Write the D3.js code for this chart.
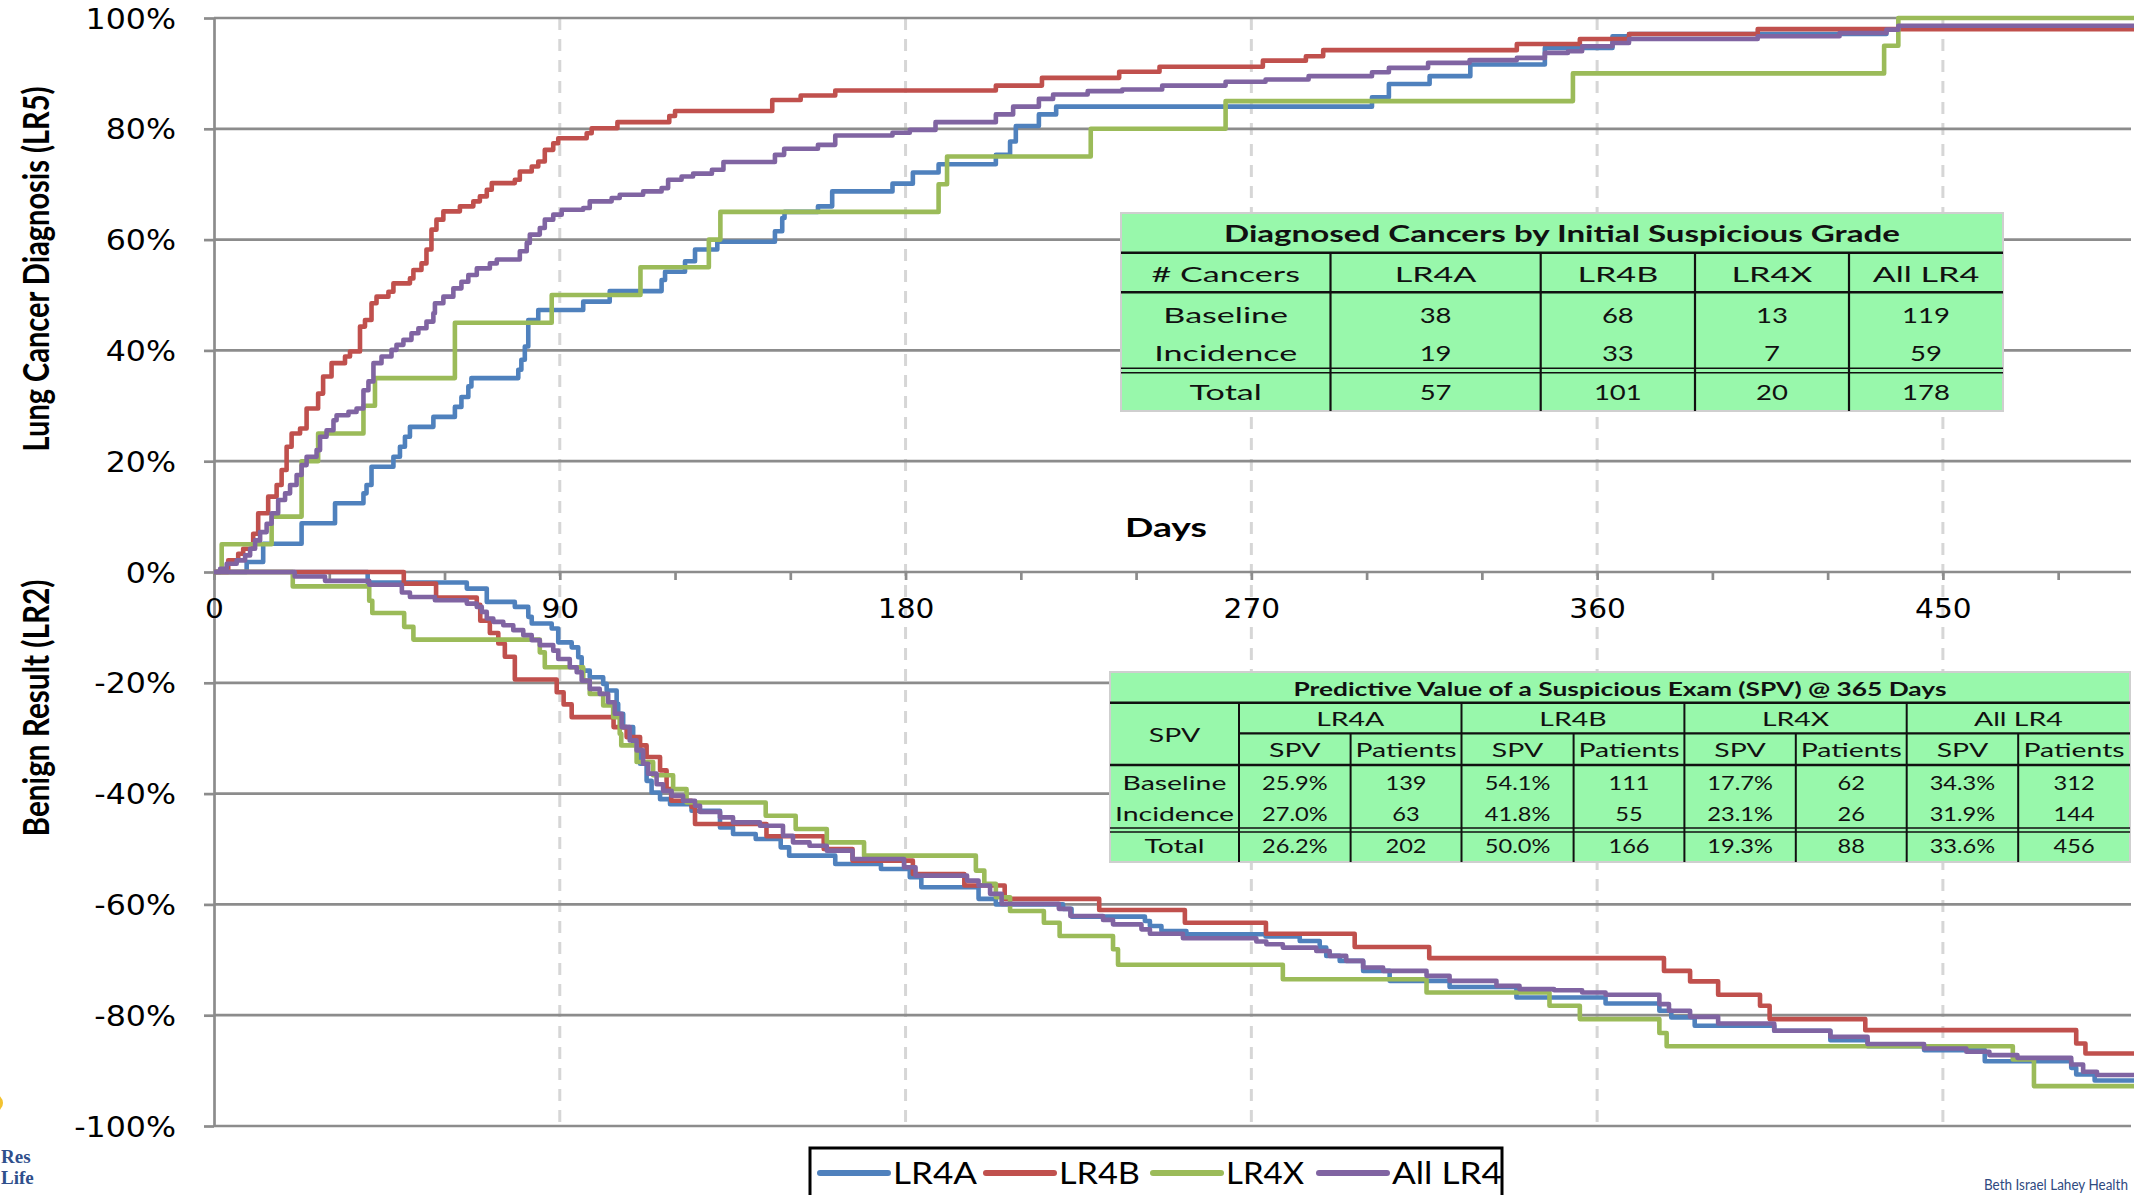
<!DOCTYPE html>
<html>
<head>
<meta charset="utf-8">
<script src="https://cdn.jsdelivr.net/npm/d3@7"></script>
<style>
  html, body { margin: 0; padding: 0; background: #fff; }
  svg { display: block; }
</style>
</head>
<body>
<svg id="chart" width="2134" height="1195"></svg>
<script>
// ---- data (days, percent) ----
const seriesNames = ['LR4A', 'LR4B', 'LR4X', 'All LR4'];
const seriesColors = ['#4f81bd', '#c0504d', '#9bbb59', '#8064a2'];

// cumulative lung cancer diagnosis (LR5), upper panel
const diagLR4A = [[0,0],[8.5,1.8],[12.8,5.1],[22.8,8.8],[31.5,12.4],[38.9,14.2],[39.7,15.7],[41,19],[46.7,20.8],[48.4,22.6],[49.7,24.4],[51,26.2],[57.1,28],[62.7,29.8],[64.4,31.6],[66.2,33.5],[67,35],[79.2,36.5],[80,38.3],[80.9,40.7],[81.8,45.5],[84.4,47.3],[96.1,48.8],[103,50.7],[116.5,52.7],[117.4,54.2],[122.6,56.1],[125.2,58.2],[131,59.6],[146,61.5],[147.9,63.9],[148.5,65],[157.2,66],[160.9,68.7],[176.6,70.1],[181.9,72.1],[188.6,73.6],[203.5,75.3],[207.2,77.7],[208.7,80.5],[214.7,82.6],[219.2,84],[301.4,85.7],[305.8,88.1],[316.4,89.5],[327,91.6],[346.4,94.6],[364,96.7],[368.3,97.1],[435.3,97.9],[438.4,98.3]];
const diagLR4B = [[0,0],[3.7,2.1],[6.3,3.3],[7.6,4.2],[10.2,6.9],[11.5,10.6],[14.1,13.6],[16.3,15.7],[17.6,18.4],[18.9,22.6],[20.2,25],[22.4,25.9],[24.1,29.5],[27.1,32.2],[28.4,35.3],[30.6,37.7],[34.1,38.9],[35.4,39.8],[38,44.3],[39.3,45.5],[41,48.5],[42.3,49.7],[45.4,50.6],[46.7,52.1],[51,53],[51.9,54.5],[54,55.7],[55.3,58.2],[56.6,61.8],[57.9,63.6],[59.7,65.1],[64,66],[67.5,66.9],[69.2,67.8],[71,69],[72.3,70.2],[78.3,70.8],[79.6,72.3],[82.7,73.2],[84.4,74.1],[86.1,76.2],[88.3,77.4],[89.6,78.3],[97,79.2],[98.3,80.1],[105,81.2],[118.5,82.3],[120,83.2],[145.3,85.2],[152.7,86],[161.7,86.9],[203.5,87.8],[215.5,89.2],[235.6,90.3],[246.1,91.2],[273,92.3],[284.2,93.1],[288.7,94.2],[339.1,95.3],[355.5,96.2],[368.3,97.1],[401.8,98]];
const diagLR4X = [[0,0],[2,5],[15,10],[22.8,20],[27.1,25],[38.9,30],[41.9,35],[62.7,45],[87.9,50],[111,55],[128.8,60],[131.8,65],[188.6,70],[190.8,75],[228.2,80],[263.3,85],[353.7,90],[434.7,95],[438.4,100]];
const diagAll = [[0,0],[1.6,0.6],[3.3,1.5],[5.9,2.1],[8.1,3],[9.4,4.2],[10.7,5.7],[12,7.2],[13.7,8.7],[15,10.6],[16.7,13],[18.5,14.2],[19.8,15.7],[21.5,17.5],[22.8,19.3],[24.1,20.8],[26.7,22],[27.6,24.4],[29.3,25.6],[31.1,27.4],[31.9,28.3],[35,28.9],[37.1,29.5],[38.9,32.8],[40.2,34.4],[41.5,37.7],[43.6,38.9],[46.2,40.1],[47.5,41],[49.3,41.9],[51.4,43.1],[53.2,44],[55.3,45.2],[57.1,46.7],[57.5,48.5],[59.7,49.7],[62.3,51.2],[64.4,52.4],[66.2,53.6],[68.4,54.8],[71.8,55.7],[73.6,56.4],[79.6,57.9],[81.4,59.4],[82.2,60.9],[84.8,62.1],[86.1,63.6],[88.3,64.5],[90.5,65.4],[96.1,65.7],[97.8,66.9],[103.5,67.5],[105.6,68.1],[111.7,68.7],[116.5,69.3],[118.2,70.8],[121.7,71.4],[124.7,71.9],[129.6,72.6],[132.6,74],[146,75.3],[148.4,76.4],[157.2,77.1],[161.7,78.8],[176.6,79.3],[181.1,79.8],[187.8,81.2],[203.5,82.6],[208,84],[214.7,85.4],[218.4,86.2],[227.4,86.8],[236.4,87.1],[246.8,87.8],[263.3,88.5],[273.7,88.9],[284.9,89.5],[301.4,90.2],[305.8,91],[316,91.9],[326.8,92.4],[339.1,92.8],[346.4,93.7],[352.4,94],[356.1,94.9],[364,95.5],[368.3,96.2],[401.8,96.7],[423.1,97.3],[435.3,97.9],[438.4,98.6]];

// cumulative benign result (LR2), lower panel
const benignLR4A = [[0,0],[40,-1.9],[65.8,-3],[71,-5.4],[78.3,-6.3],[81.8,-8.1],[82.7,-9.3],[87.9,-10.2],[89.6,-12.7],[93.1,-13.6],[94.8,-15.4],[95.7,-17.8],[97.8,-19],[101.3,-20.2],[102.2,-21.4],[104.8,-23.8],[105.2,-25.6],[106.5,-28],[109.1,-31],[110.9,-34.6],[112.6,-37.7],[113.9,-39.8],[116.1,-41],[118.7,-41.9],[124.3,-43.1],[131.7,-46.1],[135.1,-47.3],[141,-48.2],[147.5,-49.7],[149.7,-51.2],[161.7,-52.7],[173.6,-53.6],[181.1,-55.1],[184.1,-56.9],[199,-59],[203.5,-60],[221,-60.8],[223.2,-62.2],[242.3,-63],[243.6,-63.9],[246.6,-64.8],[253.1,-65.4],[273.7,-65.8],[282.6,-66.6],[287.8,-67.8],[289.5,-69.3],[293,-70.2],[299.1,-72],[306,-73.8],[321.6,-74.9],[339,-76.8],[362.2,-77.9],[376.2,-79.2],[379.3,-80.4],[385.4,-81.9],[406.1,-82.8],[420.7,-84.5],[430.4,-85.6],[445.1,-86.3],[460.9,-88.3],[483.4,-89.5],[484.7,-90.7],[489.5,-91.8]];
const benignLR4B = [[0,0],[49.4,-2.1],[57.8,-4.6],[68.4,-5.9],[69.3,-8.8],[71.8,-11],[74,-12.9],[75.7,-15.3],[78.3,-19.4],[89.2,-21.7],[91,-23.9],[93.1,-26.2],[104,-28],[107.4,-29.8],[110.9,-31.3],[112.6,-33.4],[116.1,-35.8],[117.8,-39.2],[119,-41.3],[124.3,-42.4],[125.2,-45.5],[143.8,-47.7],[158.7,-50],[166.2,-52.1],[181.9,-54.5],[195.3,-56.6],[205.8,-59],[230.4,-61],[252.7,-63.3],[273.8,-65.3],[296.9,-67.7],[316.3,-69.7],[377.4,-72],[384.2,-73.9],[391.5,-76.3],[402.4,-78.3],[404.9,-80.7],[429.8,-82.7],[484.7,-85.1],[487.1,-86.9]];
const benignLR4X = [[0,0],[20.5,-2.6],[40.4,-5.2],[41.2,-7.4],[49.5,-9.9],[51.9,-12.2],[84.8,-14.5],[86.1,-17.2],[96.1,-19.6],[97.8,-22],[101.3,-24.1],[103.9,-26.2],[105.6,-29.2],[106,-31.3],[110,-34.3],[114.3,-36.7],[119.5,-39.2],[123,-41.6],[143.6,-44],[151.4,-46.4],[159.5,-48.8],[169.2,-51.2],[198.3,-53.9],[200.5,-56.3],[203.5,-58.7],[207.2,-61.2],[216,-63.3],[220.1,-65.7],[234,-68.1],[235.3,-70.9],[278.2,-73.5],[315.6,-75.9],[347.6,-78.3],[355.5,-80.7],[376.2,-83.2],[378.1,-85.6],[468.2,-88],[473.7,-92.8]];
const benignAll = [[0,0],[21,-0.8],[28.9,-1.6],[40.4,-2.3],[48.9,-3.7],[51,-4.5],[57.5,-5.1],[65.8,-5.7],[68.4,-6.3],[69.7,-7.2],[71,-8.4],[72.7,-9],[75.3,-9.6],[77.9,-10.5],[80.5,-11.4],[82.7,-12.3],[84.8,-13.2],[88.3,-14.2],[89.6,-15.7],[92.6,-17.2],[94.4,-18.1],[95.7,-19.6],[97.8,-21.1],[100.4,-22],[102.6,-23.5],[104.3,-25.6],[106.1,-28],[108.2,-30.4],[110,-32.2],[111.7,-34.6],[113,-36.4],[115.2,-38.3],[116.9,-39.5],[119.1,-40.4],[122.1,-41.3],[125.2,-42.2],[126.5,-43.3],[131.7,-44.3],[135.1,-45.2],[142.1,-45.8],[148.1,-47.6],[150.7,-48.8],[155,-49.4],[159.5,-50.3],[166.2,-51.8],[179.6,-53.3],[182.6,-54.8],[196,-55.7],[199,-56.6],[202,-58.1],[205,-59.9],[219.9,-60.8],[222.9,-62.1],[231.4,-62.8],[234,-63.6],[241.4,-64.5],[243.6,-65.3],[252.2,-66.1],[271.3,-66.7],[273.9,-67.2],[278.2,-67.8],[286.9,-68.4],[290.4,-69.3],[294.7,-70.2],[299.1,-71.4],[304.3,-72],[315.6,-72.9],[321.6,-73.8],[333.8,-74.7],[339.8,-75.3],[348.8,-75.5],[356.1,-75.9],[362.2,-76.3],[376.2,-78],[378.7,-79.2],[384.2,-80.3],[391.5,-81.5],[406.1,-82.8],[420.7,-83.9],[430.4,-85.2],[445.1,-86],[456.1,-86.6],[462.1,-87.2],[469.4,-87.7],[483.4,-88.9],[486.5,-90.2],[490.1,-90.8]];

const diagSeries = [diagLR4A, diagLR4B, diagLR4X, diagAll];
const benignSeries = [benignLR4A, benignLR4B, benignLR4X, benignAll];

// axis ticks
const xMinorTicks = d3.range(0, 481, 30);
const xLabelStep = 90;
const yTicks = d3.range(-100, 101, 20);

// table: Diagnosed Cancers by Initial Suspicious Grade
const t1Title = 'Diagnosed Cancers by Initial Suspicious Grade';
const t1Header = ['# Cancers', 'LR4A', 'LR4B', 'LR4X', 'All LR4'];
const t1RowLabels = ['Baseline', 'Incidence', 'Total'];
const t1Values = [[38, 68, 13, 119], [19, 33, 7, 59], [57, 101, 20, 178]];

// table: Predictive Value of a Suspicious Exam
const t2Title = 'Predictive Value of a Suspicious Exam (SPV) @ 365 Days';
const t2Groups = ['LR4A', 'LR4B', 'LR4X', 'All LR4'];
const t2Sub = ['SPV', 'Patients'];
const t2RowLabels = ['Baseline', 'Incidence', 'Total'];
const t2Values = [
  ['25.9%', 139, '54.1%', 111, '17.7%', 62, '34.3%', 312],
  ['27.0%', 63, '41.8%', 55, '23.1%', 26, '31.9%', 144],
  ['26.2%', 202, '50.0%', 166, '19.3%', 88, '33.6%', 456],
];

// ---- layout ----
const W = 2134;
const H = 1195;
const xMax = 500;
const svg = d3.select('#chart');
svg.append('rect').attr('width', W).attr('height', H).attr('fill', '#fff');

const x = d3.scaleLinear().domain([0, xMax]).range([214, 2135]);
const y = d3.scaleLinear().domain([-100, 100]).range([1126, 18]);

const GRID = '#8c8c8c';
const SANS = 'DejaVu Sans, Verdana, sans-serif';
const CAL = 'Lato, "Open Sans", sans-serif';

// stretch text horizontally (the slide was scaled non-uniformly)
function stretch(sel, k) {
  sel.each(function () {
    const w = this.getComputedTextLength();
    const f = typeof k === 'function' ? k(this.textContent) : k;
    this.setAttribute('textLength', w * f);
    this.setAttribute('lengthAdjust', 'spacingAndGlyphs');
  });
}
function fitTo(sel, w) {
  sel.attr('textLength', w).attr('lengthAdjust', 'spacingAndGlyphs');
}
// scale a text placed at the origin of its own group to a given width
function scaledText(parent, tx, ty, rot, width, txt, attrs) {
  const g = parent.append('g');
  const t = g.append('text').text(txt);
  Object.entries(attrs).forEach(([k, v]) => t.attr(k, v));
  const k = width / t.node().getComputedTextLength();
  g.attr('transform', `translate(${tx},${ty}) rotate(${rot}) scale(${k},1)`);
  return t;
}

// dashed day grid
svg.append('g')
  .selectAll('line')
  .data(xMinorTicks.filter((d) => d > 0 && d % xLabelStep === 0))
  .join('line')
  .attr('x1', (d) => x(d))
  .attr('x2', (d) => x(d))
  .attr('y1', y(100))
  .attr('y2', y(-100))
  .attr('stroke', '#d6d6d6')
  .attr('stroke-width', 3)
  .attr('stroke-dasharray', '12,9');

// horizontal grid
svg.append('g')
  .selectAll('line')
  .data(yTicks)
  .join('line')
  .attr('x1', x(0))
  .attr('x2', 2131)
  .attr('y1', (d) => y(d))
  .attr('y2', (d) => y(d))
  .attr('stroke', GRID)
  .attr('stroke-width', 2.7);

// y axis
const gy = svg.append('g')
  .attr('transform', `translate(${x(0)},0)`)
  .call(d3.axisLeft(y).tickValues(yTicks).tickSize(10).tickSizeOuter(0).tickPadding(28)
    .tickFormat((d) => `${d}%`));
gy.select('.domain').attr('stroke', GRID).attr('stroke-width', 2.7);
gy.selectAll('.tick line').attr('stroke', GRID).attr('stroke-width', 2.7);
gy.selectAll('.tick text')
  .attr('font-family', SANS)
  .attr('font-size', 28)
  .attr('fill', '#000')
  .attr('dy', '0.36em');
stretch(gy.selectAll('.tick text'), 1.13);

// x axis on the zero line
const gx = svg.append('g')
  .attr('transform', `translate(0,${y(0)})`)
  .call(d3.axisBottom(x).tickValues(xMinorTicks).tickSize(8).tickSizeOuter(0).tickPadding(20)
    .tickFormat((d) => (d % xLabelStep === 0 ? d : '')));
gx.select('.domain').remove();
gx.selectAll('.tick line').attr('stroke', GRID).attr('stroke-width', 2.7);
gx.selectAll('.tick text')
  .attr('font-family', SANS)
  .attr('font-size', 26)
  .attr('fill', '#000');
stretch(gx.selectAll('.tick text'), 1.14);

// step lines
const line = d3.line()
  .x((d) => x(d[0]))
  .y((d) => y(d[1]))
  .curve(d3.curveStepAfter);
const extend = (pts) => pts.concat([[xMax, pts[pts.length - 1][1]]]);

const gLines = svg.append('g').attr('fill', 'none')
  .attr('stroke-width', 4.6).attr('stroke-linejoin', 'round');
seriesNames.forEach((name, i) => {
  gLines.append('path').attr('d', line(extend(diagSeries[i]))).attr('stroke', seriesColors[i]);
  gLines.append('path').attr('d', line(extend(benignSeries[i]))).attr('stroke', seriesColors[i]);
});

// axis titles
const titleAttrs = {
  'text-anchor': 'middle', dy: '0.36em', 'font-family': CAL, 'font-weight': 700, 'font-size': 37, fill: '#000',
};
scaledText(svg, 36, 269, -90, 365, 'Lung Cancer Diagnosis (LR5)', titleAttrs);
scaledText(svg, 36, 708, -90, 257, 'Benign Result (LR2)', titleAttrs);
svg.append('text')
  .attr('x', 1166).attr('y', 527).attr('dy', '0.36em')
  .attr('text-anchor', 'middle')
  .attr('font-family', CAL).attr('font-weight', 700).attr('font-size', 27)
  .text('Days')
  .call(fitTo, 82);

// ---- tables ----
const GREEN = '#98f8ab';
const isNum = (s) => /^[\d.%]+$/.test(s);

function hline(g, x1, x2, yy, w) {
  g.append('line').attr('x1', x1).attr('x2', x2).attr('y1', yy).attr('y2', yy)
    .attr('stroke', '#111').attr('stroke-width', w);
}
function vline(g, xx, y1, y2, w) {
  g.append('line').attr('x1', xx).attr('x2', xx).attr('y1', y1).attr('y2', y2)
    .attr('stroke', '#111').attr('stroke-width', w);
}
function cell(g, cx, cy, txt, size, kl, kn, bold) {
  const t = g.append('text')
    .attr('x', cx).attr('y', cy).attr('dy', '0.36em')
    .attr('text-anchor', 'middle')
    .attr('font-family', CAL).attr('font-size', size)
    .attr('font-weight', bold ? 700 : 400)
    .attr('fill', '#111')
    .text(txt);
  stretch(t, (s) => (isNum(s) ? kn : kl));
  return t;
}

// table 1
const t1 = {
  left: 1121, right: 2003, top: 213, titleB: 252.7, headB: 292.3, dbl: [368.3, 372.7], bottom: 411,
  cols: [1121, 1330.5, 1540.7, 1695, 1849, 2003],
  rowY: [315, 353.3, 392.5], headY: 274.5, titleY: 234,
};
const g1 = svg.append('g');
g1.append('rect')
  .attr('x', t1.left).attr('y', t1.top)
  .attr('width', t1.right - t1.left).attr('height', t1.bottom - t1.top)
  .attr('fill', GREEN).attr('stroke', '#cfcfcf').attr('stroke-width', 2);
hline(g1, t1.left, t1.right, t1.titleB, 2.6);
hline(g1, t1.left, t1.right, t1.headB, 2.6);
t1.dbl.forEach((yy) => hline(g1, t1.left, t1.right, yy, 1.6));
t1.cols.slice(1, -1).forEach((xx) => vline(g1, xx, t1.titleB, t1.bottom, 2.2));
g1.append('text')
  .attr('x', (t1.left + t1.right) / 2).attr('y', t1.titleY).attr('dy', '0.36em')
  .attr('text-anchor', 'middle')
  .attr('font-family', CAL).attr('font-weight', 700).attr('font-size', 23).attr('fill', '#111')
  .text(t1Title)
  .call(fitTo, 676);
const t1Mid = (j) => (t1.cols[j] + t1.cols[j + 1]) / 2;
t1Header.forEach((h, j) => cell(g1, t1Mid(j), t1.headY, h, 22, 1.55, 1.25));
t1RowLabels.forEach((r, i) => {
  cell(g1, t1Mid(0), t1.rowY[i], r, 22, 1.55, 1.25);
  t1Values[i].forEach((v, j) => cell(g1, t1Mid(j + 1), t1.rowY[i], String(v), 22, 1.55, 1.25));
});

// table 2
const t2 = {
  left: 1110, right: 2130, top: 672, titleB: 702.7, h1B: 733.3, h2B: 765, dbl: [828, 832], bottom: 862,
  cols: [1110, 1239, 1350.6, 1461.5, 1573.6, 1684.4, 1795.8, 1906.7, 2018.2, 2130],
  titleY: 688.5, h1Y: 719, h2Y: 750, spvY: 734.5, rowY: [782.5, 814, 845.7],
};
const g2 = svg.append('g');
g2.append('rect')
  .attr('x', t2.left).attr('y', t2.top)
  .attr('width', t2.right - t2.left).attr('height', t2.bottom - t2.top)
  .attr('fill', GREEN).attr('stroke', '#cfcfcf').attr('stroke-width', 2);
hline(g2, t2.left, t2.right, t2.titleB, 2.4);
hline(g2, t2.cols[1], t2.right, t2.h1B, 2.2);
hline(g2, t2.left, t2.right, t2.h2B, 2.4);
t2.dbl.forEach((yy) => hline(g2, t2.left, t2.right, yy, 1.5));
t2.cols.slice(1, -1).forEach((xx, j) => vline(g2, xx, j % 2 === 0 ? t2.titleB : t2.h1B, t2.bottom, 2));
g2.append('text')
  .attr('x', (t2.left + t2.right) / 2).attr('y', t2.titleY).attr('dy', '0.36em')
  .attr('text-anchor', 'middle')
  .attr('font-family', CAL).attr('font-weight', 700).attr('font-size', 19.5).attr('fill', '#111')
  .text(t2Title)
  .call(fitTo, 653);
const t2Mid = (j) => (t2.cols[j] + t2.cols[j + 1]) / 2;
cell(g2, t2Mid(0), t2.spvY, 'SPV', 20, 1.42, 1.18);
t2Groups.forEach((gname, k) => {
  cell(g2, (t2.cols[1 + 2 * k] + t2.cols[3 + 2 * k]) / 2, t2.h1Y, gname, 20, 1.42, 1.18);
  t2Sub.forEach((s, m) => cell(g2, t2Mid(1 + 2 * k + m), t2.h2Y, s, 20, 1.42, 1.18));
});
t2RowLabels.forEach((r, i) => {
  cell(g2, t2Mid(0), t2.rowY[i], r, 20, 1.42, 1.18);
  t2Values[i].forEach((v, j) => cell(g2, t2Mid(j + 1), t2.rowY[i], String(v), 20, 1.42, 1.18));
});

// ---- legend ----
const legendX = [820, 986, 1153, 1319];
const legendTextW = [84, 81, 78, 110];
const gl = svg.append('g');
gl.append('rect')
  .attr('x', 810).attr('y', 1148).attr('width', 692).attr('height', 70)
  .attr('fill', '#fff').attr('stroke', '#000').attr('stroke-width', 3);
seriesNames.forEach((name, i) => {
  gl.append('line')
    .attr('x1', legendX[i]).attr('x2', legendX[i] + 68)
    .attr('y1', 1173).attr('y2', 1173)
    .attr('stroke', seriesColors[i]).attr('stroke-width', 6).attr('stroke-linecap', 'round');
  gl.append('text')
    .attr('x', legendX[i] + 73).attr('y', 1184)
    .attr('font-family', CAL).attr('font-size', 30).attr('fill', '#000')
    .text(name)
    .call(fitTo, legendTextW[i]);
});

// ---- slide footer fragments ----
svg.append('circle').attr('cx', -6).attr('cy', 1103).attr('r', 9).attr('fill', '#f2c230');
svg.append('text').attr('x', 1).attr('y', 1163)
  .attr('font-family', 'Liberation Serif, serif').attr('font-weight', 700).attr('font-size', 19)
  .attr('fill', '#2f4f8c').text('Res');
svg.append('text').attr('x', 1).attr('y', 1184)
  .attr('font-family', 'Liberation Serif, serif').attr('font-weight', 700).attr('font-size', 19)
  .attr('fill', '#2f4f8c').text('Life');
scaledText(svg, 1984, 1190, 0, 144, 'Beth Israel Lahey Health', {
  'font-family': CAL, 'font-size': 16, fill: '#2f4a7f',
});
</script>
</body>
</html>
